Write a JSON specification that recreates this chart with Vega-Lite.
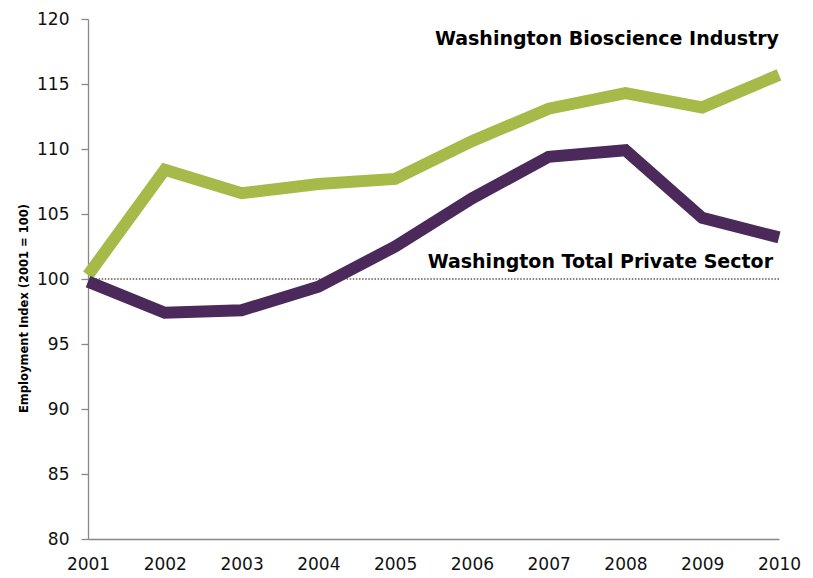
{
  "$schema": "https://vega.github.io/schema/vega-lite/v6.json",
  "width": 691,
  "height": 520,
  "autosize": {"type": "none"},
  "padding": {"left": 88, "top": 19, "right": 34, "bottom": 39},
  "background": "white",
  "config": {"view": {"stroke": null}, "font": "DejaVu Sans"},
  "datasets": {
    "series": [
      {"year": 2001, "value": 100.3, "series": "Washington Bioscience Industry"},
      {"year": 2002, "value": 108.4, "series": "Washington Bioscience Industry"},
      {"year": 2003, "value": 106.6, "series": "Washington Bioscience Industry"},
      {"year": 2004, "value": 107.3, "series": "Washington Bioscience Industry"},
      {"year": 2005, "value": 107.7, "series": "Washington Bioscience Industry"},
      {"year": 2006, "value": 110.6, "series": "Washington Bioscience Industry"},
      {"year": 2007, "value": 113.1, "series": "Washington Bioscience Industry"},
      {"year": 2008, "value": 114.3, "series": "Washington Bioscience Industry"},
      {"year": 2009, "value": 113.2, "series": "Washington Bioscience Industry"},
      {"year": 2010, "value": 115.7, "series": "Washington Bioscience Industry"},
      {"year": 2001, "value": 99.8, "series": "Washington Total Private Sector"},
      {"year": 2002, "value": 97.4, "series": "Washington Total Private Sector"},
      {"year": 2003, "value": 97.6, "series": "Washington Total Private Sector"},
      {"year": 2004, "value": 99.4, "series": "Washington Total Private Sector"},
      {"year": 2005, "value": 102.5, "series": "Washington Total Private Sector"},
      {"year": 2006, "value": 106.2, "series": "Washington Total Private Sector"},
      {"year": 2007, "value": 109.4, "series": "Washington Total Private Sector"},
      {"year": 2008, "value": 109.9, "series": "Washington Total Private Sector"},
      {"year": 2009, "value": 104.7, "series": "Washington Total Private Sector"},
      {"year": 2010, "value": 103.2, "series": "Washington Total Private Sector"}
    ],
    "labels": [
      {"year": 2010, "value": 118.0, "text": "Washington Bioscience Industry", "shift": 0},
      {"year": 2010, "value": 100.85, "text": "Washington Total Private Sector", "shift": 1}
    ],
    "ref": [{"value": 100}]
  },
  "layer": [
    {
      "data": {"name": "ref"},
      "mark": {"type": "rule", "color": "#6E5050", "strokeDash": [1.5, 1.6], "strokeWidth": 1.5},
      "encoding": {"y": {"field": "value", "type": "quantitative", "scale": {"domain": [80, 120]}}}
    },
    {
      "data": {"name": "series"},
      "mark": {"type": "line", "strokeWidth": 12, "strokeCap": "butt", "strokeJoin": "miter"},
      "encoding": {
        "x": {
          "field": "year", "type": "quantitative",
          "scale": {"domain": [2001, 2010], "nice": false, "zero": false},
          "axis": {
            "values": [2001, 2002, 2003, 2004, 2005, 2006, 2007, 2008, 2009, 2010],
            "format": "d", "title": null, "ticks": false, "grid": false,
            "domainColor": "#888888", "domainWidth": 1.3,
            "labelFontSize": 17, "labelColor": "#111111", "labelPadding": 17,
            "labelFlush": false, "labelOverlap": false
          }
        },
        "y": {
          "field": "value", "type": "quantitative",
          "scale": {"domain": [80, 120], "nice": false, "zero": false},
          "axis": {
            "values": [80, 85, 90, 95, 100, 105, 110, 115, 120],
            "title": "Employment Index (2001 = 100)",
            "titleFontSize": 11.5, "titleFontWeight": "bold", "titleColor": "#000000",
            "titleAngle": -90, "titleX": -61, "titleY": 289, "titleAlign": "center", "titleBaseline": "alphabetic",
            "grid": false, "domainColor": "#888888", "domainWidth": 1.3,
            "tickColor": "#888888", "tickSize": 7, "tickWidth": 1.3,
            "labelFontSize": 17, "labelColor": "#111111", "labelPadding": 12
          }
        },
        "color": {
          "field": "series", "type": "nominal", "legend": null,
          "scale": {"domain": ["Washington Bioscience Industry", "Washington Total Private Sector"], "range": ["#A6BA4A", "#4B2A5B"]}
        },
        "order": {"field": "series", "sort": "ascending"}
      }
    },
    {
      "data": {"name": "labels"},
      "transform": [{"filter": "datum.shift == 0"}],
      "mark": {"type": "text", "align": "right", "baseline": "alphabetic", "fontSize": 19, "fontWeight": "bold", "color": "#000000", "dx": 0},
      "encoding": {
        "x": {"field": "year", "type": "quantitative"},
        "y": {"field": "value", "type": "quantitative"},
        "text": {"field": "text"}
      }
    },
    {
      "data": {"name": "labels"},
      "transform": [{"filter": "datum.shift == 1"}],
      "mark": {"type": "text", "align": "right", "baseline": "alphabetic", "fontSize": 19, "fontWeight": "bold", "color": "#000000", "dx": -6},
      "encoding": {
        "x": {"field": "year", "type": "quantitative"},
        "y": {"field": "value", "type": "quantitative"},
        "text": {"field": "text"}
      }
    }
  ]
}
